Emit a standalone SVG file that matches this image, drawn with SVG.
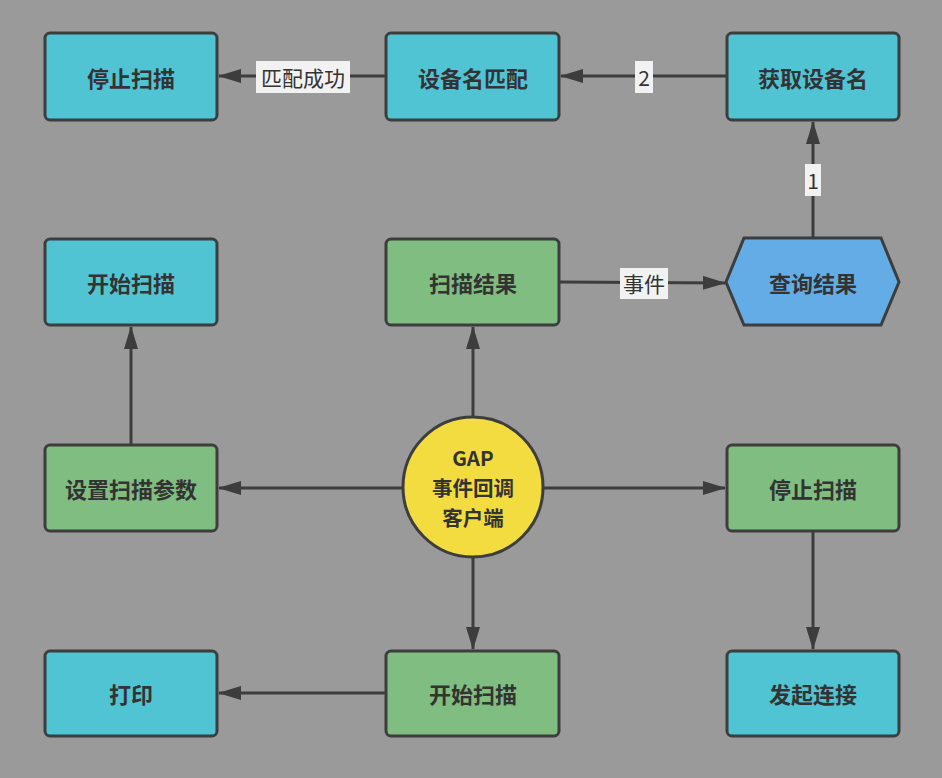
<svg xmlns="http://www.w3.org/2000/svg" width="942" height="778" viewBox="0 0 942 778">
<style>
.bg{fill:#9a9a9a}
.box{stroke:#3d3d3d;stroke-width:3}
.cyan{fill:#51c4d3}
.green{fill:#80bd80}
.blue{fill:#64ace6}
.yellow{fill:#f2dc3f}
.t{font-family:"Noto Sans CJK SC","Noto Sans",sans-serif;font-weight:bold;font-size:22px;fill:#333;text-anchor:middle;dominant-baseline:central}
.tc{font-size:20.5px}
.edge{stroke:#3d3d3d;stroke-width:3;fill:none;marker-end:url(#arr)}
.lb{fill:#f2f2f2}
.lt{font-family:"Noto Sans CJK SC","Noto Sans",sans-serif;font-size:21px;fill:#333;text-anchor:middle;dominant-baseline:central}
</style>
<defs>
<marker id="arr" viewBox="0 0 23 14" refX="22" refY="7" markerWidth="23" markerHeight="14" markerUnits="userSpaceOnUse" orient="auto">
<path d="M0,0 L23,7 L0,14 Z" fill="#3d3d3d"/>
</marker>
</defs>
<rect class="bg" x="0" y="0" width="942" height="778"/>
<g id="connectors">
<path class="edge" d="M386,76 L219,76"/>
<path class="edge" d="M727,76 L561,76"/>
<path class="edge" d="M813,238 L813,122"/>
<path class="edge" d="M560,282 L725,283"/>
<path class="edge" d="M473,417 L473,327"/>
<path class="edge" d="M403,488 L219,488"/>
<path class="edge" d="M131,444 L131,327"/>
<path class="edge" d="M543,488 L725,488"/>
<path class="edge" d="M473,557 L473,649"/>
<path class="edge" d="M813,532 L813,649"/>
<path class="edge" d="M386,693 L219,693"/>
<g id="label-match"><rect class="lb" x="256" y="61" width="94" height="32"/><text class="lt" x="303" y="77">匹配成功</text></g>
<g id="label-2"><rect class="lb" x="635" y="61" width="18" height="32"/><text class="lt" x="644" y="77">2</text></g>
<g id="label-1"><rect class="lb" x="805" y="164" width="16" height="32"/><text class="lt" x="813" y="180">1</text></g>
<g id="label-event"><rect class="lb" x="620" y="268" width="48" height="31"/><text class="lt" x="644" y="283">事件</text></g>
</g>
<g id="n-stop1"><rect class="box cyan" x="45" y="33" width="172" height="87" rx="5"/><text class="t" x="131" y="77">停止扫描</text></g>
<g id="n-match"><rect class="box cyan" x="386" y="33" width="173" height="87" rx="5"/><text class="t" x="473" y="77">设备名匹配</text></g>
<g id="n-getname"><rect class="box cyan" x="727" y="33" width="172" height="87" rx="5"/><text class="t" x="813" y="77">获取设备名</text></g>
<g id="n-start1"><rect class="box cyan" x="45" y="239" width="172" height="86" rx="5"/><text class="t" x="131" y="282">开始扫描</text></g>
<g id="n-result"><rect class="box green" x="386" y="239" width="173" height="86" rx="5"/><text class="t" x="473" y="282">扫描结果</text></g>
<g id="n-query"><polygon class="box blue" points="726,282 744,238 881,238 899,282 881,325 744,325"/><text class="t" x="813" y="282">查询结果</text></g>
<g id="n-params"><rect class="box green" x="45" y="445" width="172" height="86" rx="5"/><text class="t" x="131" y="488">设置扫描参数</text></g>
<g id="n-gap"><circle class="box yellow" cx="473" cy="487" r="70"/><text class="t tc" x="473" y="457">GAP</text><text class="t tc" x="473" y="487">事件回调</text><text class="t tc" x="473" y="517">客户端</text></g>
<g id="n-stop2"><rect class="box green" x="727" y="445" width="172" height="86" rx="5"/><text class="t" x="813" y="488">停止扫描</text></g>
<g id="n-print"><rect class="box cyan" x="45" y="651" width="172" height="85" rx="5"/><text class="t" x="131" y="693">打印</text></g>
<g id="n-start2"><rect class="box green" x="386" y="651" width="173" height="85" rx="5"/><text class="t" x="473" y="693">开始扫描</text></g>
<g id="n-connect"><rect class="box cyan" x="727" y="651" width="172" height="85" rx="5"/><text class="t" x="813" y="693">发起连接</text></g>
</svg>
